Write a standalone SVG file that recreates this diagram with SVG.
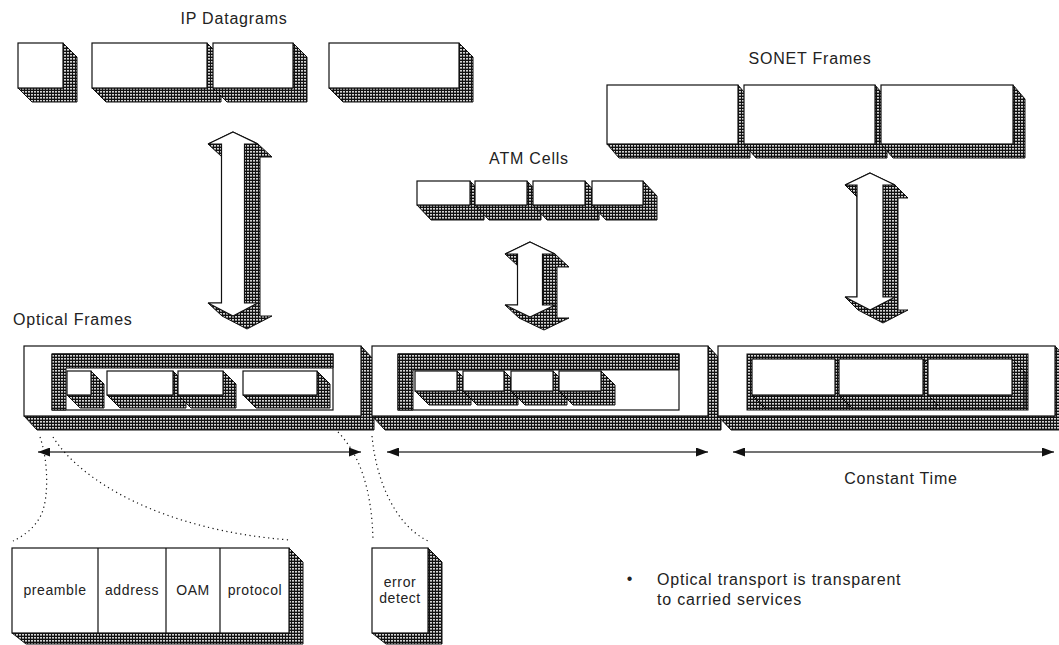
<svg xmlns="http://www.w3.org/2000/svg" width="1059" height="645" viewBox="0 0 1059 645">
<defs>
<pattern id="dots" width="3" height="3" patternUnits="userSpaceOnUse"><rect width="3" height="3" fill="#111"/><rect x="1" y="1" width="2" height="1.6" fill="#d4d4d4"/></pattern>
<marker id="ah" viewBox="0 0 12 9" refX="12" refY="4.5" markerWidth="12" markerHeight="9" markerUnits="userSpaceOnUse" orient="auto-start-reverse"><path d="M0,0 L12,4.5 L0,9 Z" fill="#111"/></marker>
</defs>
<style>
.sh{fill:url(#dots);stroke:#111;stroke-width:1}
.fr{fill:#fff;stroke:#111;stroke-width:1.2}
.ln{fill:none;stroke:#111;stroke-width:1.2}
.dl{fill:none;stroke:#111;stroke-width:1.2;stroke-dasharray:1.2 3.5}
.hd{font-family:"Liberation Sans",Arial,sans-serif;font-size:16px;letter-spacing:0.8px;fill:#222}
.lb{font-family:"Liberation Sans",Arial,sans-serif;font-size:14px;letter-spacing:0.6px;fill:#222;text-anchor:middle}
.ha{fill:none;stroke:#444;stroke-width:1.6;marker-start:url(#ah);marker-end:url(#ah)}
</style>
<rect width="1059" height="645" fill="#fff"/>

<g id="ip-datagrams">
<text class="hd" x="234" y="24" text-anchor="middle">IP Datagrams</text>
<path class="sh" d="M63,43 L77,57 L77,102 L32,102 L18,88 L63,88 Z"/><rect class="fr" x="18" y="43" width="45" height="45"/>
<path class="sh" d="M207,43 L221,57 L221,102 L106,102 L92,88 L207,88 Z"/><rect class="fr" x="92" y="43" width="115" height="45"/>
<path class="sh" d="M293,43 L307,57 L307,102 L227,102 L213,88 L293,88 Z"/><rect class="fr" x="213" y="43" width="80" height="45"/>
<path class="sh" d="M459,43 L473,57 L473,102 L343,102 L329,88 L459,88 Z"/><rect class="fr" x="329" y="43" width="130" height="45"/>
</g>

<g id="sonet-frames">
<text class="hd" x="810" y="64" text-anchor="middle">SONET Frames</text>
<path class="sh" d="M738,85 L750,99 L750,158 L619,158 L607,144 L738,144 Z"/><rect class="fr" x="607" y="85" width="131" height="59"/>
<path class="sh" d="M875,85 L887,99 L887,158 L756,158 L744,144 L875,144 Z"/><rect class="fr" x="744" y="85" width="131" height="59"/>
<path class="sh" d="M1013,85 L1025,99 L1025,158 L893,158 L881,144 L1013,144 Z"/><rect class="fr" x="881" y="85" width="132" height="59"/>
</g>

<g id="atm-cells">
<text class="hd" x="529" y="164" text-anchor="middle">ATM Cells</text>
<path class="sh" d="M470,181 L484,196 L484,220 L431,220 L417,205 L470,205 Z"/><rect class="fr" x="417" y="181" width="53" height="24"/>
<path class="sh" d="M527,181 L541,196 L541,220 L489,220 L475,205 L527,205 Z"/><rect class="fr" x="475" y="181" width="52" height="24"/>
<path class="sh" d="M585,181 L599,196 L599,220 L547,220 L533,205 L585,205 Z"/><rect class="fr" x="533" y="181" width="52" height="24"/>
<path class="sh" d="M643,181 L657,196 L657,220 L606,220 L592,205 L643,205 Z"/><rect class="fr" x="592" y="181" width="51" height="24"/>
</g>

<g id="connectors">
<g id="arrow-ip">
<path class="sh" d="M233,132 L258,144 L272,157 L260,157 L260,316 L272,316 L247,329 L222,316 L208,303 L221.5,303 L221.5,156.5 L208,144 Z"/>
<path class="fr" d="M233,132 L258,144 L244.5,144 L244.5,303 L258,303 L233,316 L208,303 L221.5,303 L221.5,144 L208,144 Z"/>
</g>
<g id="arrow-atm">
<path class="sh" d="M530,242 L555,254 L569,267 L557,267 L557,318 L569,318 L544,330 L519,318 L505,305 L517.5,305 L517.5,265.6 L505,254 Z"/>
<path class="fr" d="M530,242 L555,254 L542.5,254 L542.5,305 L555,305 L530,317 L505,305 L517.5,305 L517.5,254 L505,254 Z"/>
</g>
<g id="arrow-sonet">
<path class="sh" d="M870,173 L895,185 L908,198 L898,198 L898,310 L908,310 L883,323 L858,310 L845,297 L857,297 L857,197 L845,185 Z"/>
<path class="fr" d="M870,173 L895,185 L883,185 L883,297 L895,297 L870,310 L845,297 L857,297 L857,185 L845,185 Z"/>
</g>
<path class="ha" d="M38,452 H361"/>
<path class="ha" d="M387,452 H708"/>
<path class="ha" d="M733,452 H1054"/>
<path class="dl" d="M40,437 C48,460 49,495 42,513 C36,527 24,536 13,541"/>
<path class="dl" d="M53,437 C80,480 160,530 290,540"/>
<path class="dl" d="M338,432 C360,455 372,490 373,541"/>
<path class="dl" d="M372,436 C376,480 395,525 428,541"/>
</g>

<g id="optical-frames">
<text class="hd" x="13" y="325">Optical Frames</text>
<g id="frame-ip">
<path class="sh" d="M361,346 L374,360 L374,430 L37,430 L24,416 L361,416 Z"/><rect class="fr" x="24" y="346" width="337" height="70"/>
<rect class="fr" x="52" y="354" width="281" height="56"/>
<path class="sh" d="M52,354 H333 V368 H66 V410 H52 Z"/>
<path class="sh" d="M91,371 L104,384 L104,408 L80,408 L67,395 L91,395 Z"/><rect class="fr" x="67" y="371" width="24" height="24"/>
<path class="sh" d="M173,371 L186,384 L186,408 L120,408 L107,395 L173,395 Z"/><rect class="fr" x="107" y="371" width="66" height="24"/>
<path class="sh" d="M223,371 L236,384 L236,408 L191,408 L178,395 L223,395 Z"/><rect class="fr" x="178" y="371" width="45" height="24"/>
<path class="sh" d="M317,371 L330,384 L330,408 L256,408 L243,395 L317,395 Z"/><rect class="fr" x="243" y="371" width="74" height="24"/>
</g>
<g id="frame-atm">
<path class="sh" d="M708,346 L721,360 L721,430 L385,430 L372,416 L708,416 Z"/><rect class="fr" x="372" y="346" width="336" height="70"/>
<rect class="fr" x="398" y="354" width="281" height="56"/>
<path class="sh" d="M398,354 H679 V370 H413 V410 H398 Z"/>
<path class="sh" d="M457,371 L471,385 L471,405 L429,405 L415,391 L457,391 Z"/><rect class="fr" x="415" y="371" width="42" height="20"/>
<path class="sh" d="M504,371 L518,385 L518,405 L477,405 L463,391 L504,391 Z"/><rect class="fr" x="463" y="371" width="41" height="20"/>
<path class="sh" d="M553,371 L567,385 L567,405 L525,405 L511,391 L553,391 Z"/><rect class="fr" x="511" y="371" width="42" height="20"/>
<path class="sh" d="M601,371 L615,385 L615,405 L573,405 L559,391 L601,391 Z"/><rect class="fr" x="559" y="371" width="42" height="20"/>
</g>
<g id="frame-sonet">
<path class="sh" d="M1055,346 L1068,360 L1068,430 L731,430 L718,416 L1055,416 Z"/><rect class="fr" x="718" y="346" width="337" height="70"/>
<rect class="sh" x="747" y="354" width="281" height="56"/>
<path class="sh" d="M835,359 L848,372 L848,408 L765,408 L752,395 L835,395 Z"/><rect class="fr" x="752" y="359" width="83" height="36"/>
<path class="sh" d="M923,359 L936,372 L936,408 L852,408 L839,395 L923,395 Z"/><rect class="fr" x="839" y="359" width="84" height="36"/>
<path class="sh" d="M1012,359 L1025,372 L1025,408 L941,408 L928,395 L1012,395 Z"/><rect class="fr" x="928" y="359" width="84" height="36"/>
</g>
</g>

<g id="constant-time">
<text class="hd" x="901" y="484" text-anchor="middle">Constant Time</text>
</g>

<g id="header-fields">
<path class="sh" d="M289,548 L303,562 L303,644 L26,644 L12,633 L289,633 Z"/>
<rect class="fr" x="12" y="548" width="277" height="85"/>
<path class="ln" d="M98,548 V633 M166,548 V633 M220,548 V633"/>
<text class="lb" x="55" y="595">preamble</text>
<text class="lb" x="132" y="595">address</text>
<text class="lb" x="193" y="595">OAM</text>
<text class="lb" x="255" y="595">protocol</text>
</g>

<g id="error-detect">
<path class="sh" d="M428,548 L442,562 L442,644 L386,644 L372,633 L428,633 Z"/>
<rect class="fr" x="372" y="548" width="56" height="85"/>
<text class="lb" x="400" y="587">error</text>
<text class="lb" x="400" y="603">detect</text>
</g>

<g id="note">
<text class="hd" x="630" y="584" text-anchor="middle">•</text>
<text class="hd" x="657" y="585">Optical transport is transparent</text>
<text class="hd" x="657" y="605">to carried services</text>
</g>
</svg>
